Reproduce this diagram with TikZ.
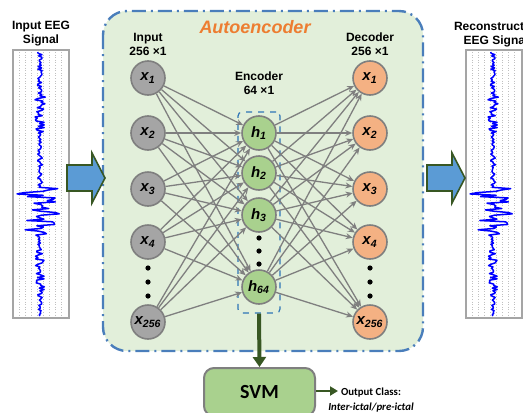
\documentclass[tikz,border=0pt]{standalone}
\usepackage{fontspec}
\setmainfont{Liberation Sans}
\newfontfamily\calfont{Carlito}
\usetikzlibrary{arrows.meta}

\definecolor{panelfill}{HTML}{E2EFDA}
\definecolor{panelline}{HTML}{4A7EBB}
\definecolor{ingray}{HTML}{A5A5A5}
\definecolor{hidgreen}{HTML}{A9D18E}
\definecolor{outorange}{HTML}{F4B183}
\definecolor{nodeline}{HTML}{7F7F7F}
\definecolor{bigblue}{HTML}{5B9BD5}
\definecolor{darkgreen}{HTML}{385723}
\definecolor{aeorange}{HTML}{ED7D31}
\definecolor{boxblue}{HTML}{2E75B6}

\begin{document}
\begin{tikzpicture}[x=0.5pt,y=-0.5pt,
  neuron/.style={circle,draw=nodeline,line width=0.8pt,minimum size=17pt,inner sep=0pt,
    font=\bfseries\itshape\fontsize{7.5}{8}\selectfont},
  innode/.style={neuron,fill=ingray},
  hidnode/.style={neuron,fill=hidgreen},
  outnode/.style={neuron,fill=outorange},
  link/.style={draw=nodeline,line width=0.65pt,-{Stealth[length=3.5pt,width=3pt]}},
  lbl/.style={font=\bfseries\fontsize{6}{7}\selectfont,align=center,inner sep=0pt},
  bigarrow/.style={fill=bigblue,draw=darkgreen,line width=0.8pt},
  eegbox/.style={draw=ingray,fill=white,line width=0.6pt},
  gridln/.style={draw=ingray!70,densely dotted,line width=0.3pt},
  signal/.style={draw=blue,line width=0.75pt,line join=round},
  greenarrow/.style={draw=darkgreen,line width=2pt,-{Triangle[length=5pt,width=6.5pt]}}
]
\useasboundingbox (0,0) rectangle (523,412);

% Autoencoder panel
\draw[fill=panelfill,draw=panelline,line width=1.2pt,rounded corners=12pt,
  dash pattern=on 7pt off 2.5pt on 1pt off 2.5pt] (103,11) rectangle (423,351);
\node[font=\bfseries\itshape\fontsize{9}{10}\selectfont,text=aeorange] (title) at (255,27) {Autoencoder};

% Layer labels
\node[lbl] (inlbl) at (148,44) {Input\\256 \texttimes1};
\node[lbl] (enclbl) at (259,83) {Encoder\\64 \texttimes1};
\node[lbl] (declbl) at (370,44) {Decoder\\256 \texttimes1};

% Encoder box
\node[draw=boxblue,dashed,line width=0.6pt,rounded corners=2pt,minimum width=21pt,
  minimum height=100.5pt,inner sep=0pt] (enc) at (259,212.5) {};

% Neurons
\foreach \n/\y/\s in {1/78/1,2/133/2,3/189/3,4/242/4,5/322/256} {
  \node[innode] (in\n) at (148,\y) {x\textsubscript{\s}};
  \node[outnode] (out\n) at (370,\y) {x\textsubscript{\s}};
}
\foreach \n/\y/\s in {1/133/1,2/173/2,3/215/3,4/287/64}
  \node[hidnode] (hid\n) at (259,\y) {h\textsubscript{\s}};

% Dots
\foreach \y in {268,282,296} {
  \fill (148,\y) circle (2.6);
  \fill (370,\y) circle (2.6);
}
\foreach \y in {238,251,264}
  \fill (259,\y) circle (2.6);

% Connections
\foreach \i in {1,...,5}
  \foreach \j in {1,...,4}
    \draw[link] (in\i) -- (hid\j);
\foreach \j in {1,...,4}
  \foreach \k in {1,...,5}
    \draw[link] (hid\j) -- (out\k);

% EEG signals
\node[lbl] (eegin) at (41,34) {Input EEG\\Signal};
\node[lbl] (eegout) at (496,34) {Reconstructed\\EEG Signal};
\draw[eegbox] (13,50) rectangle (69,318);
\draw[eegbox] (466,50) rectangle (522,318);
\foreach \g in {19,25,...,64} {
  \draw[gridln] (\g,52) -- (\g,316);
  \draw[gridln] (\g+453,52) -- (\g+453,316);
}
\pgfmathsetseed{5}
\draw[signal] plot[variable=\t,domain=52:316,samples=200]
  ({40+(2.5+3*(\t>95)*(\t<132)+2*(\t>245)*(\t<290))*rand+(\t>188)*(\t<236)*(9*sin(\t*31)+13*rand)},\t);
\pgfmathsetseed{5}
\draw[signal] plot[variable=\t,domain=52:316,samples=200]
  ({493+(2.5+3*(\t>95)*(\t<132)+2*(\t>245)*(\t<290))*rand+(\t>188)*(\t<236)*(9*sin(\t*31)+13*rand)},\t);

% Big arrows
\draw[bigarrow] (67,165) -- (92,165) -- (92,153) -- (105,178) -- (92,203) -- (92,191) -- (67,191) -- cycle;
\draw[bigarrow] (427,165) -- (452,165) -- (452,153) -- (465,178) -- (452,203) -- (452,191) -- (427,191) -- cycle;

% SVM
\node[draw=nodeline,fill=hidgreen,line width=1pt,rounded corners=5pt,minimum width=55.5pt,
  minimum height=24pt,font=\calfont\bfseries\fontsize{10}{12}\selectfont] (svm) at (259.5,392) {SVM};
\draw[greenarrow] (enc.south) -- (svm.north);
\coordinate (outend) at (338,391);
\draw[draw=darkgreen,line width=1.3pt,-{Triangle[length=4pt,width=4.5pt]}] (svm.east |- outend) -- (outend);
\node[font=\calfont\bfseries\fontsize{5.4}{7.2}\selectfont,align=center,inner sep=0pt] (cls) at (371,400)
  {Output Class:\\\textit{Inter-ictal/pre-ictal}};
\end{tikzpicture}
\end{document}
